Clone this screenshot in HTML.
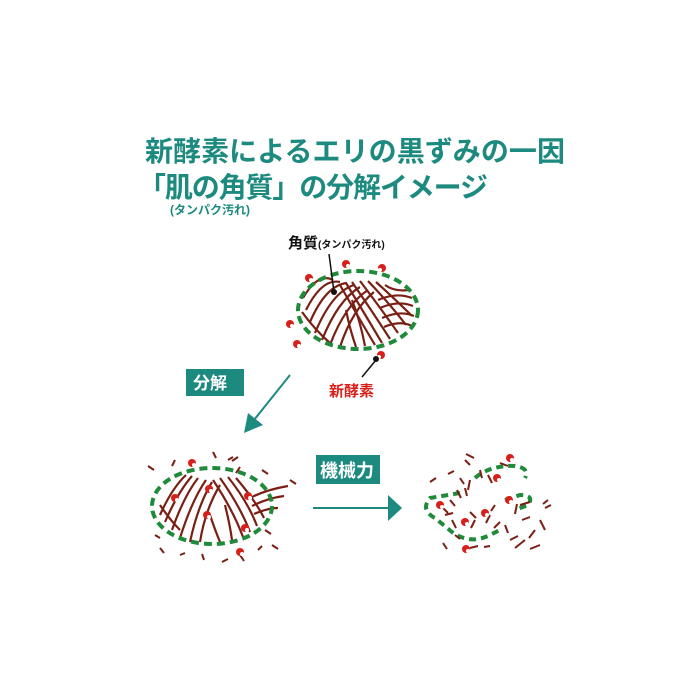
<!DOCTYPE html>
<html><head><meta charset="utf-8"><style>
body{margin:0;background:#fff;}
svg{display:block}
.t{font-family:"Liberation Sans","Noto Sans CJK JP",sans-serif;font-weight:bold}
</style></head><body>
<svg width="700" height="700" viewBox="0 0 700 700">
<text class="t" x="145" y="161" font-size="28" fill="#1d8a80" textLength="420">新酵素によるエリの黒ずみの一因</text>
<text class="t" x="138" y="197" font-size="28" fill="#1d8a80" textLength="350">「肌の角質」の分解イメージ</text>
<text class="t" x="170" y="214" font-size="12" fill="#1d8a80">(タンパク汚れ)</text>

<!-- top ellipse -->
<g stroke="#7a1f14" stroke-width="2.2" fill="none">
<path d="M303 298 Q318 272 333 280 M306 310 Q322 278 340 282 M310 322 Q326 285 347 283 M315 333 Q332 292 354 285 M322 340 Q338 300 360 287 M330 345 Q345 305 368 290 M340 347 Q352 310 374 292"/>
<path d="M340 285 Q360 320 375 345 M346 283 Q366 316 382 343 M352 282 Q374 314 390 339 M360 281 Q382 310 398 333 M368 281 Q390 304 406 325 M376 282 Q396 300 412 316"/>
<path d="M378 300 Q396 292 412 298 M380 308 Q398 300 413 306 M382 318 Q400 310 414 316 M384 327 Q400 320 412 326 M385 285 Q395 292 408 290"/>
<path d="M302 312 Q315 330 330 343 M346 310 Q350 330 356 347 M352 300 Q360 320 365 346"/>
</g>
<ellipse cx="358" cy="310" rx="60" ry="39" fill="none" stroke="#1f8a3a" stroke-width="4" stroke-dasharray="8,5"/>
<g fill="#d8201a">
<circle cx="346" cy="264" r="4"/><circle cx="382" cy="268" r="4"/><circle cx="309" cy="278" r="4"/>
<circle cx="290" cy="324" r="4"/><circle cx="297" cy="344" r="4"/><circle cx="381" cy="355" r="4"/>
</g>
<g fill="#fff"><circle cx="348" cy="266" r="2"/><circle cx="380" cy="270" r="2"/><circle cx="311" cy="280" r="2"/><circle cx="292" cy="326" r="2"/><circle cx="299" cy="346" r="2"/><circle cx="379" cy="357" r="2"/></g>
<text class="t" x="288" y="248" font-size="15" fill="#111">角質<tspan font-size="10">(タンパク汚れ)</tspan></text>
<line x1="329" y1="254" x2="334" y2="292" stroke="#111" stroke-width="1.5"/><circle cx="334" cy="292" r="3" fill="#111"/>
<line x1="376" y1="360" x2="362" y2="377" stroke="#111" stroke-width="1.5"/><circle cx="376" cy="359" r="3" fill="#111"/>
<text class="t" x="329" y="396" font-size="15" fill="#d8201a">新酵素</text>

<rect x="186" y="369" width="58" height="27" fill="#1d8a80"/>
<text class="t" x="193" y="389" font-size="17" fill="#fff">分解</text>
<line x1="290" y1="375" x2="254" y2="420" stroke="#1d8a80" stroke-width="2"/>
<polygon points="244,433 248,413 263,425" fill="#1d8a80"/>

<!-- bottom left -->
<g stroke="#7a1f14" stroke-width="2.2" fill="none">
<path d="M160 515 Q172 488 186 475 M165 522 Q178 492 192 476 M172 530 Q184 496 198 478 M180 538 Q192 500 206 480 M190 542 Q198 505 212 482 M200 542 Q205 510 220 485"/>
<path d="M213 480 Q233 510 243 537 M220 478 Q240 506 250 532 M228 477 Q248 502 257 526 M236 478 Q255 500 264 518"/>
<path d="M250 498 Q265 490 288 486 M252 506 Q268 498 284 496 M254 514 Q268 508 278 508"/>
<path d="M160 505 Q170 520 180 530 M210 515 Q215 530 220 542 M225 505 Q230 525 232 540"/>
</g>
<ellipse cx="212" cy="506" rx="60" ry="38" fill="none" stroke="#1f8a3a" stroke-width="4" stroke-dasharray="8,5"/>
<g stroke="#7a1f14" stroke-width="2" fill="none">
<path d="M148 466l6 4M175 460l-3 6M213 452l3 6M238 457l-6 4M240 467l-4 6M262 470l6 4M290 480l6 4M160 548l4 5M180 555l5-2M202 554l2 6M222 562l6-3M240 555l4 6M258 550l4-4M272 545l6 4M228 460l5-3M265 530l6 4M155 535l5 3"/>
</g>
<g fill="#d8201a"><circle cx="192" cy="463" r="4"/><circle cx="175" cy="498" r="4"/><circle cx="209" cy="489" r="4"/><circle cx="248" cy="496" r="4"/><circle cx="207" cy="515" r="4"/><circle cx="245" cy="528" r="4"/><circle cx="240" cy="552" r="4"/></g>
<g fill="#fff"><circle cx="194" cy="465" r="2"/><circle cx="177" cy="500" r="2"/><circle cx="211" cy="491" r="2"/><circle cx="250" cy="498" r="2"/><circle cx="209" cy="517" r="2"/><circle cx="247" cy="530" r="2"/><circle cx="242" cy="554" r="2"/></g>

<rect x="316" y="455" width="64" height="29" fill="#1d8a80"/>
<text class="t" x="320" y="477" font-size="18" fill="#fff">機械力</text>
<line x1="313" y1="508" x2="390" y2="508" stroke="#1d8a80" stroke-width="2"/>
<polygon points="402,508 388,495 388,521" fill="#1d8a80"/>

<!-- bottom right scattered -->
<path d="M475 478 Q490 465 515 466 Q530 468 525 478 M460 493 L430 498 Q420 510 435 518 L452 532 Q470 545 490 535 L500 530 M505 500 L520 495 Q535 495 528 505 L515 510" fill="none" stroke="#1f8a3a" stroke-width="4" stroke-dasharray="7,5"/>
<g stroke="#7a1f14" stroke-width="2" fill="none">
<path d="M466 454l8 4M448 474l6-3M460 478l4 6M480 470l2 8M488 475l4 8M430 482l6-4M457 490l4 8M465 488l2 8M443 508l5 5M445 515l8-2M452 520l4 8M470 512l6 6M475 520l-4 8M490 515l-4 8M500 522l-6 6M505 525l3 8M517 504l-2 10M520 505l10-3M522 520l8-3M535 530l-6 8M540 520l5 10M545 508l6-3M443 543l4 6M455 535l5 4M470 548l8-2M484 547l6-1M525 540l-10 8M465 460l5 5M500 463l8 3M470 480l-2 10M450 500l5 6M495 505l-4 6M510 540l8-4M540 545l-10 4M548 500l-5 4"/>
</g>
<g fill="#d8201a"><circle cx="510" cy="458" r="4"/><circle cx="497" cy="478" r="4"/><circle cx="440" cy="505" r="4"/><circle cx="509" cy="500" r="4"/><circle cx="485" cy="513" r="4"/><circle cx="465" cy="522" r="4"/><circle cx="466" cy="549" r="4"/></g>
<g fill="#fff"><circle cx="512" cy="460" r="2"/><circle cx="499" cy="480" r="2"/><circle cx="442" cy="507" r="2"/><circle cx="511" cy="502" r="2"/><circle cx="487" cy="515" r="2"/><circle cx="467" cy="524" r="2"/><circle cx="468" cy="551" r="2"/></g>
</svg>
</body></html>
